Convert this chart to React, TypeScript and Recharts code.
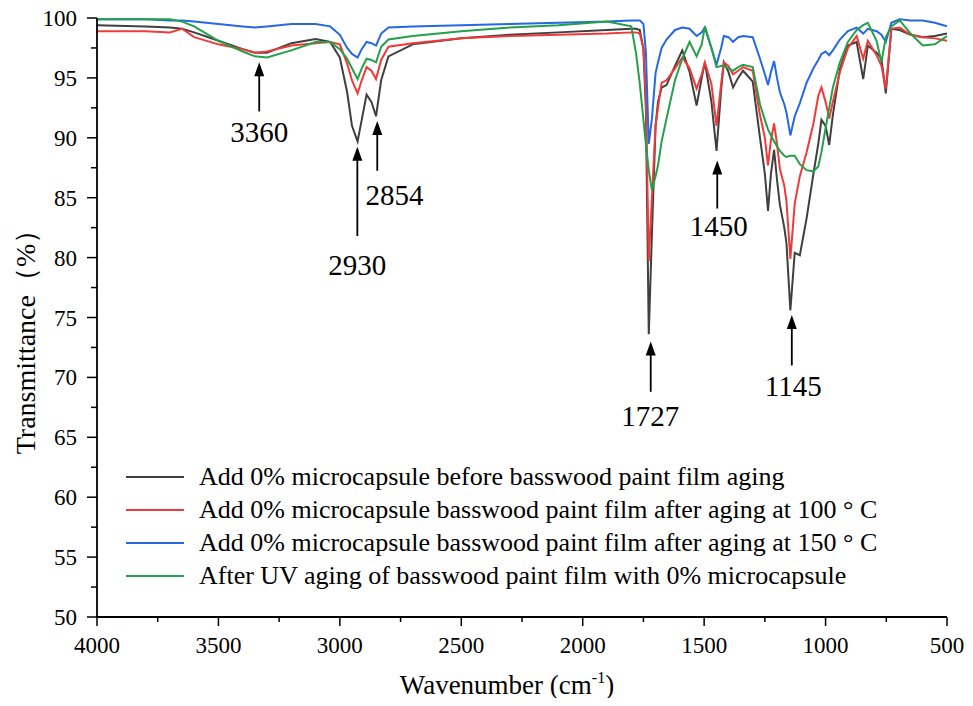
import React from 'react';
import {
  LineChart,
  Line,
  XAxis,
  YAxis,
  Legend,
  ReferenceLine,
  ReferenceDot,
} from 'recharts';

// wavenumber grid (cm-1), shared by all four spectra
const wavenumbers = [
  4000, 3800, 3700, 3650, 3600, 3500, 3400, 3350, 3300, 3200, 3100, 3040, 3000, 2970, 2950,
  2927, 2910, 2890, 2870, 2851, 2830, 2800, 2700, 2500, 2300, 2100, 1900, 1800, 1780, 1765,
  1750, 1740, 1728, 1715, 1700, 1690, 1675, 1655, 1620, 1590, 1560, 1531, 1510, 1497, 1470,
  1449, 1430, 1419, 1400, 1381, 1360, 1340, 1300, 1270, 1250, 1237, 1225, 1212, 1200, 1188,
  1170, 1161, 1145, 1127, 1106, 1078, 1050, 1030, 1017, 1000, 985, 970, 941, 908, 872,
  845, 826, 790, 770, 752, 729, 695, 650, 600, 550, 500,
];

const beforeAging = [
  99.4, 99.3, 99.2, 99.1, 98.8, 98.1, 97.4, 97.1, 97.1, 97.9, 98.25, 98.0, 96.7, 93.8, 91.0,
  89.7, 91.5, 93.6, 93.0, 91.8, 94.8, 96.8, 97.8, 98.3, 98.6, 98.8, 99.0, 99.1, 99.1, 99.0,
  97.4, 92.5, 73.6, 82.0, 91.0, 93.0, 94.2, 94.4, 96.0, 97.3, 95.5, 92.7, 95.0, 96.3, 93.0,
  88.9, 94.0, 96.3, 95.5, 94.2, 95.0, 95.6, 94.7, 90.0, 87.0, 83.9, 87.0, 89.0, 86.5, 84.4,
  82.5, 81.2, 75.6, 80.4, 80.2, 83.3, 87.0, 89.5, 91.5, 91.0, 89.4, 91.9, 95.75, 97.7, 98.0,
  94.9, 97.7, 97.1, 96.6, 93.7, 99.1, 99.0, 98.6, 98.4, 98.5, 98.7,
];

const aged100 = [
  98.9, 98.9, 98.8, 99.1, 98.4, 97.8, 97.4, 97.1, 97.2, 97.7, 97.9, 98.0, 97.8, 96.2, 94.8,
  93.7, 94.8, 95.9, 95.6, 94.9, 96.5, 97.6, 97.9, 98.3, 98.5, 98.6, 98.7, 98.8, 98.8, 98.7,
  97.5, 93.5, 79.7, 85.0, 91.0, 92.5, 94.6, 94.8, 95.8, 96.7, 95.8, 94.1, 95.3, 96.3, 94.5,
  91.0, 94.5, 96.3, 96.0, 95.3, 95.6, 95.9, 95.6, 91.9, 90.0, 87.7, 89.8, 91.2, 89.5, 87.4,
  86.0, 84.7, 79.9, 84.5, 86.8, 88.8, 91.2, 93.5, 94.2, 93.0, 91.6, 93.0, 95.5, 97.5, 98.5,
  96.6, 98.1, 96.9, 96.0, 94.1, 99.1, 99.2, 98.6, 98.4, 98.3, 98.1,
];

const aged150 = [
  99.9, 99.9, 99.8, 99.8, 99.7, 99.5, 99.3, 99.2, 99.3, 99.5, 99.5, 99.3, 98.6, 97.5, 97.0,
  96.7, 97.4, 98.0, 97.9, 97.7, 98.7, 99.2, 99.3, 99.4, 99.5, 99.6, 99.7, 99.8, 99.8, 99.8,
  99.5, 97.2, 89.5, 91.6, 95.4, 96.3, 97.5, 98.2, 99.0, 99.2, 99.1, 98.5, 98.8, 99.2, 97.5,
  96.1, 97.5, 98.5, 98.4, 98.0, 98.4, 98.5, 98.4, 96.6, 95.3, 94.4, 95.5, 96.4, 95.0, 93.8,
  92.8, 92.1, 90.2, 91.8, 92.9, 94.6, 95.8, 96.5, 97.0, 97.2, 96.9, 97.3, 98.2, 98.9, 99.2,
  98.7, 99.1, 98.9, 98.6, 98.0, 99.6, 99.9, 99.8, 99.8, 99.6, 99.3,
];

const uvAged = [
  99.9, 99.9, 99.9, 99.7, 99.3, 98.1, 97.2, 96.8, 96.7, 97.3, 98.0, 98.0, 97.4, 96.6, 95.8,
  94.9, 95.8, 96.6, 96.5, 96.3, 97.6, 98.2, 98.5, 98.9, 99.2, 99.4, 99.7, 99.3, 97.0, 94.5,
  91.5, 89.5, 87.3, 85.6, 86.8, 87.7, 89.7, 91.6, 94.8, 96.6, 98.0, 96.8, 97.8, 99.3, 97.5,
  95.9, 96.0, 96.0, 95.8, 95.6, 95.9, 96.1, 95.9, 92.8, 91.5, 90.7, 90.2, 89.7, 89.3, 88.9,
  88.5, 88.4, 88.5, 88.5, 87.8, 87.3, 87.2, 87.6, 88.8, 90.8, 92.5, 94.2, 96.3, 98.0, 99.0,
  99.4, 99.6, 98.1, 96.3, 98.4, 99.3, 99.8, 98.7, 97.7, 97.8, 98.5,
];

const seriesNames = [
  'Add 0% microcapsule before basswood paint film aging',
  'Add 0% microcapsule basswood paint film after aging at 100 ° C',
  'Add 0% microcapsule basswood paint film after aging at 150 ° C',
  'After UV aging of basswood paint film with 0% microcapsule',
];
const seriesKeys = ['before', 'aged100', 'aged150', 'uv'];
const seriesColors = ['#3f3f3f', '#f03a3a', '#2468e6', '#24a04a'];

const xTicks = [4000, 3750, 3500, 3250, 3000, 2750, 2500, 2250, 2000, 1750, 1500, 1250, 1000, 750, 500];
const yTicks = [50, 52.5, 55, 57.5, 60, 62.5, 65, 67.5, 70, 72.5, 75, 77.5, 80, 82.5, 85, 87.5, 90, 92.5, 95, 97.5, 100];

// peak annotations: arrow at wavenumber, tip/tail in transmittance, label position
const peakLabels = ['3360', '2930', '2854', '1727', '1450', '1145'];
const peakArrowWn = [3332, 2928, 2846, 1720, 1446, 1139];
const peakTipT = [96.3, 89.25, 91.4, 73.0, 88.1, 75.2];
const peakTailT = [92.2, 81.8, 87.25, 68.8, 84.1, 71.0];
const peakLabelWn = [3332, 2928, 2775, 1722, 1440, 1133];
const peakLabelT = [90.5, 79.4, 85.2, 66.8, 82.6, 69.25];

const data = wavenumbers.map((w, i) => ({
  w,
  before: beforeAging[i],
  aged100: aged100[i],
  aged150: aged150[i],
  uv: uvAged[i],
}));

const FONT = '"Liberation Serif", "Times New Roman", serif';

const XTick = (props: any) => {
  const { x, y, payload } = props;
  const major = payload.value % 500 === 0;
  return (
    <g>
      <line x1={x} x2={x} y1={y} y2={y + (major ? 9 : 5)} stroke="#000" strokeWidth={1.5} />
      {major && (
        <text x={x} y={y + 36} textAnchor="middle" fontSize={23} fontFamily={FONT} fill="#000">
          {payload.value}
        </text>
      )}
    </g>
  );
};

const YTick = (props: any) => {
  const { x, y, payload } = props;
  const major = payload.value % 5 === 0;
  return (
    <g>
      <line x1={x} x2={x - (major ? 10 : 6)} y1={y} y2={y} stroke="#000" strokeWidth={1.5} />
      {major && (
        <text x={x - 20} y={y + 8} textAnchor="end" fontSize={23} fontFamily={FONT} fill="#000">
          {payload.value}
        </text>
      )}
    </g>
  );
};

const XTitle = (props: any) => {
  const { viewBox } = props;
  return (
    <text x={viewBox.x + 410} y={viewBox.y + 77} textAnchor="middle" fontSize={27} fontFamily={FONT} fill="#000">
      Wavenumber (cm
      <tspan fontSize={16} dy={-11}>-1</tspan>
      <tspan dy={11}>)</tspan>
    </text>
  );
};

const YTitle = () => (
  <text
    x={25}
    y={335}
    transform="rotate(-90 25 335)"
    textAnchor="middle"
    dominantBaseline="central"
    fontSize={28}
    fontFamily={FONT}
    fill="#000"
  >
    Transmittance（%）
  </text>
);

const Arrow = (props: any) => {
  const { x1, y1, x2, y2 } = props;
  const head = 14;
  return (
    <g>
      <line x1={x1} y1={y1} x2={x2} y2={y2 + head - 2} stroke="#000" strokeWidth={1.8} />
      <polygon points={`${x2},${y2} ${x2 - 5},${y2 + head} ${x2 + 5},${y2 + head}`} fill="#000" />
    </g>
  );
};

const renderLegend = () => (
  <div style={{ fontFamily: FONT, fontSize: 26, color: '#000' }}>
    {seriesNames.map((name, i) => (
      <div key={name} style={{ display: 'flex', alignItems: 'center', height: 33, whiteSpace: 'nowrap' }}>
        <svg width={58} height={4} style={{ marginRight: 15 }}>
          <line x1={0} x2={58} y1={2} y2={2} stroke={seriesColors[i]} strokeWidth={2} />
        </svg>
        <span>{name}</span>
      </div>
    ))}
  </div>
);

export default function App() {
  return (
    <div style={{ fontFamily: FONT, margin: -8 }}>
      <LineChart width={973} height={706} data={data} margin={{ top: 18, right: 26, bottom: 0, left: 0 }}>
        <XAxis
          dataKey="w"
          type="number"
          domain={[500, 4000]}
          reversed
          ticks={xTicks}
          interval={0}
          tickSize={0}
          tickMargin={0}
          tick={<XTick />}
          height={89}
          axisLine={{ stroke: '#000', strokeWidth: 1.8 }}
          allowDataOverflow
          label={<XTitle />}
        />
        <XAxis
          xAxisId="top"
          orientation="top"
          dataKey="w"
          type="number"
          domain={[500, 4000]}
          reversed
          height={0}
          tick={false}
          tickLine={false}
          axisLine={{ stroke: '#000', strokeWidth: 1.8 }}
        />
        <YAxis
          type="number"
          domain={[50, 100]}
          ticks={yTicks}
          interval={0}
          tickSize={0}
          tickMargin={0}
          tick={<YTick />}
          width={97}
          axisLine={{ stroke: '#000', strokeWidth: 1.8 }}
          allowDataOverflow
          label={<YTitle />}
        />
        <YAxis
          yAxisId="right"
          orientation="right"
          type="number"
          domain={[50, 100]}
          width={0}
          tick={false}
          tickLine={false}
          axisLine={{ stroke: '#000', strokeWidth: 1.8 }}
        />
        {seriesKeys.map((k, i) => (
          <Line
            key={k}
            type="linear"
            dataKey={k}
            stroke={seriesColors[i]}
            strokeWidth={2}
            dot={false}
            isAnimationActive={false}
          />
        ))}
        {peakLabels.map((lab, i) => (
          <ReferenceLine
            key={`arrow-${lab}`}
            segment={[
              { x: peakArrowWn[i], y: peakTailT[i] },
              { x: peakArrowWn[i], y: peakTipT[i] },
            ]}
            shape={<Arrow />}
          />
        ))}
        {peakLabels.map((lab, i) => (
          <ReferenceDot
            key={`label-${lab}`}
            x={peakLabelWn[i]}
            y={peakLabelT[i]}
            r={0}
            shape={(p: any) => (
              <text
                x={p.cx}
                y={p.cy}
                textAnchor="middle"
                dominantBaseline="central"
                fontSize={29}
                fontFamily={FONT}
                fill="#000"
              >
                {lab}
              </text>
            )}
          />
        ))}
        <Legend
          layout="vertical"
          align="center"
          verticalAlign="middle"
          content={renderLegend}
          wrapperStyle={{ position: 'absolute', left: 126, top: 460, width: 'auto' }}
        />
      </LineChart>
    </div>
  );
}
